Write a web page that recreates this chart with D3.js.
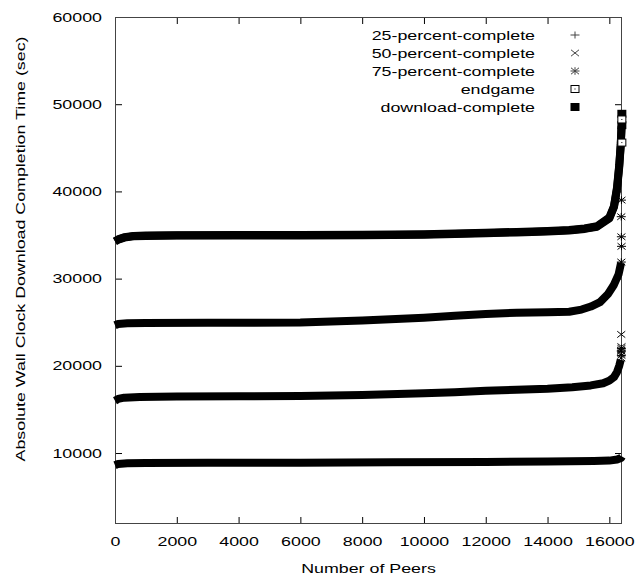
<!DOCTYPE html>
<html><head><meta charset="utf-8">
<script src="https://cdn.jsdelivr.net/npm/d3@7"></script>
<style>body{margin:0;background:#fff}svg{display:block}text{font-family:"Liberation Sans",Arial,sans-serif;font-size:13px;fill:#000}</style>
</head><body>
<svg id="c" width="637" height="575"></svg>
<script>
const seriesNames = ["25-percent-complete","50-percent-complete","75-percent-complete","endgame","download-complete"];
const xTicks = [0,2000,4000,6000,8000,10000,12000,14000,16000];
const yTicks = [10000,20000,30000,40000,50000,60000];

const peers25 = [0,100,400,1000,3000,6000,9000,12000,14000,15500,16000,16250,16380,16410];
const time25  = [8600,8750,8820,8850,8870,8890,8930,8970,9030,9080,9130,9250,9420,9600];

const peers50 = [0,100,300,800,2000,4000,6000,8000,10000,11000,12000,13000,14000,14800,15400,15800,16000,16150,16250,16320,16370];
const time50  = [16000,16200,16350,16420,16470,16510,16540,16650,16850,16980,17130,17250,17380,17550,17750,18000,18300,18700,19300,20000,20700];
const tailPeers50 = [16385,16390,16380,16392,16386];
const tailTime50  = [20900,21400,21800,22200,23600];

const peers75 = [0,100,400,1000,3000,6000,8000,10000,11000,12000,13000,14000,14700,15100,15400,15700,15950,16150,16300,16380];
const time75  = [24650,24800,24880,24920,24940,24960,25200,25520,25750,25950,26080,26150,26200,26450,26800,27300,28200,29300,30500,31800];
const tailPeers75 = [16390,16385,16392,16388,16395,16390,16386,16392];
const tailTime75  = [21200,21700,22000,31900,33700,34800,37100,39000];

const peersEnd = [0,100,300,600,1000,2000,4000,6000,8000,10000,11000,12000,13000,14000,14700,15200,15600,16000,16150,16250,16320,16370,16395];
const timeEnd  = [34250,34450,34700,34850,34900,34930,34950,34950,34970,35030,35120,35210,35300,35400,35520,35700,35950,36900,38200,40300,42800,45300,47300];
const tailPeersEnd = [16405,16405];
const tailTimeEnd  = [45600,48250];

const peersDL = [0,100,300,600,1000,2000,4000,6000,8000,10000,11000,12000,13000,14000,14700,15200,15600,16000,16150,16250,16320,16370,16395];
const timeDL  = [34300,34500,34750,34900,34950,34980,35000,35000,35020,35080,35170,35260,35350,35450,35570,35750,36000,37000,38300,40500,43000,45500,47500];
const tailPeersDL = [16405,16405];
const tailTimeDL  = [47600,48900];

const SX = 1.37; // horizontal text stretch of the original
const svg = d3.select("#c");
const L=115, R=622, T=17, B=524;
const x = d3.scaleLinear().domain([0,16410]).range([L,R]);
const y = d3.scaleLinear().domain([1860,60000]).range([B,T]);

function stretch(sel){
  sel.each(function(){ const n=this.getComputedTextLength(); if(n>0){ this.setAttribute("textLength", n*SX); this.setAttribute("lengthAdjust","spacingAndGlyphs"); }});
}

// axes
const gx = svg.append("g").attr("transform",`translate(0,${B})`)
  .call(d3.axisBottom(x).tickValues(xTicks).tickFormat(d3.format("d")).tickSizeInner(-7).tickSizeOuter(0).tickPadding(13));
const gxt = svg.append("g").attr("transform",`translate(0,${T})`)
  .call(d3.axisTop(x).tickValues(xTicks).tickFormat("").tickSizeInner(-7).tickSizeOuter(0));
const gy = svg.append("g").attr("transform",`translate(${L},0)`)
  .call(d3.axisLeft(y).tickValues(yTicks).tickFormat(d3.format("d")).tickSizeInner(-7).tickSizeOuter(0).tickPadding(13));
const gyr = svg.append("g").attr("transform",`translate(${R},0)`)
  .call(d3.axisRight(y).tickValues(yTicks).tickFormat("").tickSizeInner(-7).tickSizeOuter(0));
[gx,gxt,gy,gyr].forEach(g=>{
  g.select(".domain").remove();
  g.selectAll(".tick line").attr("stroke","#000");
  g.selectAll("text").attr("font-size",null).attr("font-family",null).attr("fill","#000");
});
gx.selectAll("text").call(stretch);
gy.selectAll("text").call(stretch);

svg.append("rect").attr("x",L+0.5).attr("y",T+0.5).attr("width",R-L-1).attr("height",B-T-1)
  .attr("fill","none").attr("stroke","#444").attr("stroke-width",1);

// titles
svg.append("text").attr("x",(L+R)/2).attr("y",573).attr("text-anchor","middle").text("Number of Peers").call(stretch);
svg.append("text").attr("transform","translate(20,249) rotate(-90)").attr("text-anchor","middle").attr("dy","0.35em")
  .text("Absolute Wall Clock Download Completion Time (sec)").call(stretch);

// marker shapes
const sym = {
  plus: "M-4.5,0H4.5M0,-3.5V3.5",
  cross: "M-4,-3.2L4,3.2M-4,3.2L4,-3.2",
  star: "M-4.5,0H4.5M0,-3.8V3.8M-4,-3.2L4,3.2M-4,3.2L4,-3.2"
};
function marker(g, kind, cx, cy, color){
  if(kind==="plus"||kind==="cross"||kind==="star"){
    g.append("path").attr("d",sym[kind]).attr("transform",`translate(${cx},${cy})`).attr("fill","none").attr("stroke",color||"#000").attr("stroke-width",1);
  } else if(kind==="osq"){
    g.append("rect").attr("x",cx-4).attr("y",cy-3.5).attr("width",8).attr("height",7).attr("fill","#fff").attr("stroke",color||"#000").attr("stroke-width",1);
    g.append("rect").attr("x",cx-0.5).attr("y",cy-0.5).attr("width",1).attr("height",1).attr("fill",color||"#000");
  } else {
    g.append("rect").attr("x",cx-4.5).attr("y",cy-4).attr("width",9).attr("height",8).attr("fill",color||"#000");
  }
}

const line = d3.line().x(d=>x(d[0])).y(d=>y(d[1]));
const plot = svg.append("g");
function band(px,py){
  plot.append("path").datum(px.map((p,i)=>[p,py[i]])).attr("d",line)
    .attr("fill","none").attr("stroke","#000").attr("stroke-width",8).attr("stroke-linejoin","round").attr("stroke-linecap","butt");
}
function scatter(px,py,kind){
  px.forEach((p,i)=>marker(plot,kind,x(p),y(py[i])));
}
band(peers25,time25);
band(peers50,time50);
band(peers75,time75);
band(peersEnd,timeEnd);
band(peersDL,timeDL);
scatter(tailPeers50,tailTime50,"cross");
scatter(tailPeers75,tailTime75,"star");
scatter(tailPeersDL,tailTimeDL,"fsq");
scatter(tailPeersEnd,tailTimeEnd,"osq");

// legend
const kinds = ["plus","cross","star","osq","fsq"];
const lg = svg.append("g");
seriesNames.forEach((n,i)=>{
  const cy = 35 + i*18;
  lg.append("text").attr("x",535).attr("y",cy).attr("dy","0.35em").attr("text-anchor","end").text(n).call(stretch);
  marker(lg,kinds[i],575,cy,i<3?"#444":"#000");
});
</script>
</body></html>
